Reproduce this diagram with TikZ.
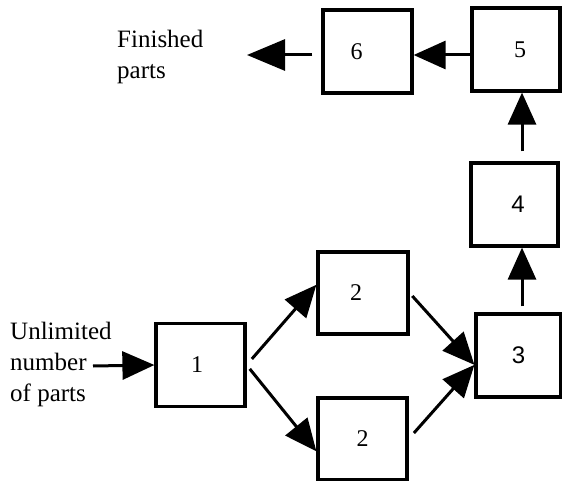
\documentclass[tikz,border=0pt]{standalone}
\usepackage{fontspec}
\setmainfont{Liberation Serif}
\newfontfamily\digitsans{Liberation Sans}
\usetikzlibrary{arrows.meta,calc}
\begin{document}
\begin{tikzpicture}[x=1pt,y=-1pt,
  stage/.style={draw,line width=3.2pt,inner sep=0pt,minimum width=89pt,minimum height=83pt,
    font=\fontsize{24}{28}\selectfont},
  caption/.style={anchor=base west,align=left,inner sep=0pt,font=\fontsize{25}{31}\selectfont},
  arr/.style={line width=3pt,-{Triangle[length=32pt,width=28pt]}},
  arrbig/.style={line width=3pt,-{Triangle[length=38pt,width=31pt]}}]
\useasboundingbox (0,0) rectangle (562,481);

% process stages
\node[stage] (b1) at (200.5,365) {1\hspace*{7pt}};
\node[stage,minimum width=90pt,minimum height=82pt] (b2a) at (363,293) {2\hspace*{14pt}};
\node[stage,minimum height=82pt] (b2b) at (362.5,439) {2};
\node[stage,minimum width=85pt] (b3) at (518.5,355.5) {\digitsans 3};
\node[stage,minimum width=87pt] (b4) at (514.5,204.5) {\hspace*{7pt}\digitsans 4};
\node[stage,minimum width=88pt] (b5) at (516,49.5) {\hspace*{8pt}5};
\node[stage] (b6) at (367.5,51.5) {6\hspace*{22pt}};

% texts (base anchor sits on the last line)
\node[caption] (fin) at (117,79) {Finished\\parts};
\node[caption] (src) at (10,401) {Unlimited\\number\\of parts};

% free ends
\coordinate (in) at (93,366);
\coordinate (out) at (247,55);
\coordinate (c3) at ($(b3.north)+(3.5,0)$);
\coordinate (c4) at ($(b4.north)+(7.5,0)$);
\coordinate (c5) at ($(b5.west)+(0,5.5)$);

% flow
\draw[arr] (in) -- (b1.west);
\draw[arr,shorten <=8pt] (b1.east) -- (b2a.170);
\draw[arr,shorten <=5pt] (b1.east) -- (b2b.195);
\draw[arr,shorten <=4pt] (b2a.east) -- (b3.192);
\draw[arr,shorten <=8pt] (b2b.east) -- (b3.192);
\draw[arr,shorten <=6pt] (c3) -- (c3 |- b4.south);
\draw[arr,shorten <=10pt] (c4) -- (c4 |- b5.south);
\draw[arr] (c5) -- (c5 -| b6.east);
\draw[arrbig,shorten <=9pt] (c5 -| b6.west) -- (out);
\end{tikzpicture}
\end{document}
